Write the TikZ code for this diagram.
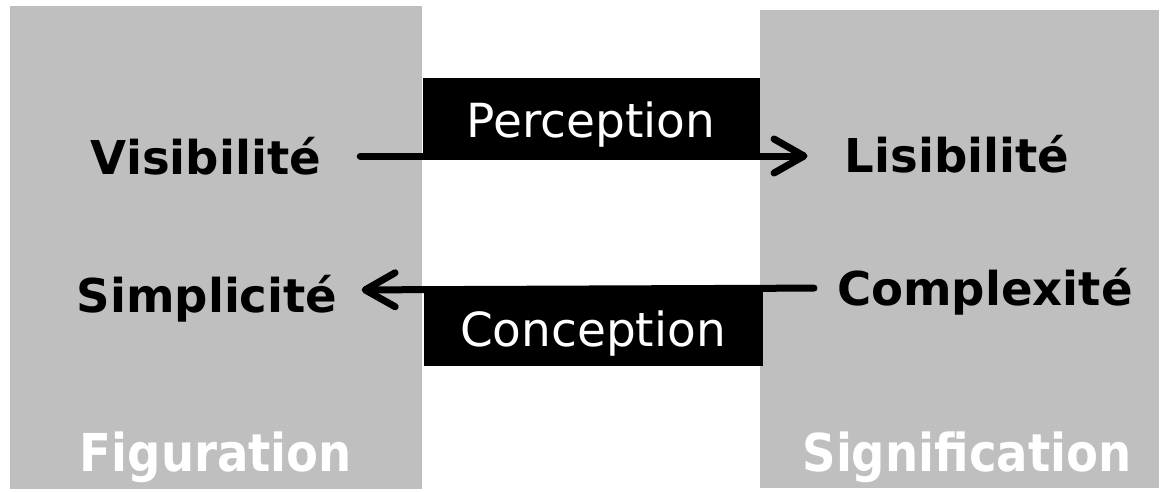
\documentclass[tikz,border=0pt]{standalone}
\usepackage{fontspec}
\setmainfont{DejaVu Sans}
\usepackage{tikz}
\usetikzlibrary{arrows.meta}
\definecolor{panelgray}{RGB}{191,191,191}
\newcommand{\tallword}[1]{\scalebox{1}[1.12]{#1}}

\begin{document}
\begin{tikzpicture}[x=1pt, y=-1pt,
  panel/.style={fill=panelgray, inner sep=0pt, anchor=north west},
  band/.style={fill=black, inner sep=0pt, anchor=north west},
  term/.style={font=\fontsize{46.6}{50}\selectfont\bfseries, anchor=base, inner sep=0pt},
  title/.style={term, text=white},
  verb/.style={font=\fontsize{47}{50}\selectfont, text=white, anchor=base, inner sep=0pt},
  flow/.style={line width=7pt, line cap=round, -{Straight Barb[length=30pt, width=34pt, round]}}]
\useasboundingbox (0,0) rectangle (1168,491);

% panels and bands
\node[panel, minimum width=412pt, minimum height=483pt] (figpanel) at (10,6) {};
\node[panel, minimum width=399pt, minimum height=478pt] (sigpanel) at (760,10) {};
\node[band, minimum width=337pt, minimum height=81pt] (perband) at (423,78) {};
\node[band, minimum width=339pt, minimum height=79pt] (conband) at (424,287) {};

% texts
\node[verb] (per) at (591,137) {Perception};
\node[verb] (con) at (593,346) {Conception};
\node[term] (vis) at (206,174) {Visibilité};
\node[term] (lis) at (957,172) {Lisibilité};
\node[term] (sim) at (207,312) {Simplicité};
\node[term] (com) at (985,305) {Complexité};
\node[title] (fig) at (216,471) {\tallword{Figuration}};
\node[title] (sig) at (967,471) {\tallword{Signification}};

\draw[flow, shorten <=39pt, shorten >=37pt] ([yshift=18pt]vis.base east) -- ([yshift=16pt]lis.base west);
\draw[flow, shorten <=23pt, shorten >=24pt] ([yshift=17pt]com.base west) -- ([yshift=22pt]sim.base east);
\end{tikzpicture}
\end{document}
